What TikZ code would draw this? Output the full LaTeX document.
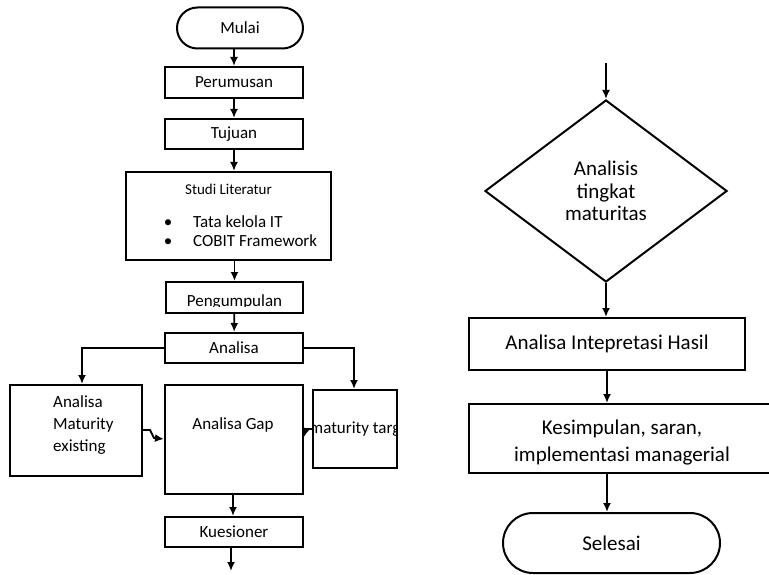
\documentclass[tikz,border=0pt]{standalone}
\usepackage{fontspec}
\setmainfont{Carlito}
\usepackage{tikz}
\usetikzlibrary{arrows.meta, positioning, shapes.geometric, calc}
\definecolor{ink}{RGB}{0,0,0}
\tikzset{
  stepbox/.style={
    draw=ink,
    line width=2pt,
    align=center,
    inner sep=0pt,
    font=\fontsize{17}{22}\selectfont
  },
  bigbox/.style={stepbox, font=\fontsize{21}{27}\selectfont},
  termbox/.style={stepbox, rounded corners=#1},
  decisionNode/.style={
    draw=ink,
    line width=2pt,
    diamond,
    aspect=1.33,
    inner sep=0pt,
    align=center,
    font=\fontsize{21}{22.5}\selectfont
  },
  plain/.style={inner sep=0pt, font=\fontsize{17}{22}\selectfont},
  flow/.style={-{Latex[length=9pt,width=8pt]}, line width=1.8pt, draw=ink}
}

\begin{document}
\begin{tikzpicture}[x=1pt, y=-1pt]
  \clip (0,0) rectangle (769,575);

  \node[termbox=20.5pt, minimum width=126pt, minimum height=41pt] (mulai) at (240,28) {Mulai};
  \node[stepbox, minimum width=138pt, minimum height=31pt] (perumusan) at (234,82.5) {Perumusan};
  \node[stepbox, minimum width=138pt, minimum height=30pt] (tujuan) at (234,134) {Tujuan};
  \node[stepbox, minimum width=205pt, minimum height=88pt] (studi) at (228.5,216) {};
  \node[plain, font=\fontsize{15}{19}\selectfont] (studiTitle) at (228.5,189) {Studi Literatur};
  \node[plain, anchor=base] (bulletA) at (168,227) {•};
  \node[plain, anchor=base west] (itemA) at (193,227) {Tata kelola IT};
  \node[plain, anchor=base] (bulletB) at (168,246) {•};
  \node[plain, anchor=base west] (itemB) at (193,246) {COBIT Framework};
  \node[stepbox, minimum width=137pt, minimum height=31pt] (pengumpulan) at (234.5,297.5) {};
  \begin{scope}
    \clip (166,283) rectangle (303,306.5);
    \node[plain, anchor=base] (pengumpulanText) at (234.5,306) {Pengumpulan};
  \end{scope}
  \node[stepbox, minimum width=138pt, minimum height=30pt] (analisa) at (234,348) {Analisa};

  \node[stepbox, minimum width=132pt, minimum height=91pt] (existing) at (76,430.5) {};
  \node[plain, anchor=west, align=left] (existingText) at (53,425) {Analisa\\Maturity\\existing};
  \node[stepbox, minimum width=138pt, minimum height=109pt] (gap) at (234,439.5) {};
  \node[plain] (gapText) at (233,425) {Analisa Gap};
  \node[stepbox, minimum width=84pt, minimum height=78pt] (target) at (355,429) {};
  \begin{scope}
    \clip (314,391) rectangle (396,467);
    \node[plain, anchor=base west] (targetText) at (309.5,433) {maturity target};
  \end{scope}
  \node[stepbox, minimum width=138pt, minimum height=30pt] (kuesioner) at (234,532) {Kuesioner};
  \coordinate (leftEnd) at (231,571);

  \coordinate (rightStart) at (606,63);
  \node[decisionNode, minimum width=242pt, minimum height=182pt] (maturitas) at (606,191) {Analisis\\tingkat\\maturitas};
  \node[bigbox, minimum width=276pt, minimum height=52pt] (hasil) at (607,344) {Analisa Intepretasi Hasil};
  \node[bigbox, minimum width=306pt, minimum height=69pt] (kesimpulan) at (622,438.5) {};
  \node[plain, align=center, font=\fontsize{21}{27}\selectfont] (kesimpulanText) at (622,442.5) {Kesimpulan, saran,\\implementasi managerial};
  \node[termbox=30pt, bigbox, minimum width=217pt, minimum height=60pt] (selesai) at (611.5,543) {Selesai};

  \draw[flow] (perumusan.north |- mulai.south) -- (perumusan.north);
  \draw[flow] (perumusan) -- (tujuan);
  \draw[flow] (tujuan.south) -- (tujuan.south |- studi.north);
  \draw[flow] (pengumpulan.north |- studi.south) -- (pengumpulan.north);
  \draw[flow] (pengumpulan) -- (analisa);
  \draw[flow] (analisa.west) -| ([xshift=6pt]existing.north);
  \draw[flow] (analisa.east) -| ([xshift=-1pt]target.north);
  \draw[flow] ([yshift=0.5pt]existing.east) -- ++(7,0) -- ++(4,8) -- (gap.west |- 0,439);
  \draw[flow] (target.west) -- ++(-6,0) -- ([yshift=2.5pt]gap.east);
  \draw[flow] ([xshift=-1pt]gap.south) -- ([xshift=-1pt]kuesioner.north);
  \draw[flow] (kuesioner.south -| leftEnd) -- (leftEnd);

  \draw[flow] (rightStart) -- (maturitas.north);
  \draw[flow] (maturitas.south) -- (maturitas.south |- hasil.north);
  \draw[flow] (hasil.south) -- (hasil.south |- kesimpulan.north);
  \draw[flow] (hasil.south |- kesimpulan.south) -- (hasil.south |- selesai.north);
\end{tikzpicture}
\end{document}
